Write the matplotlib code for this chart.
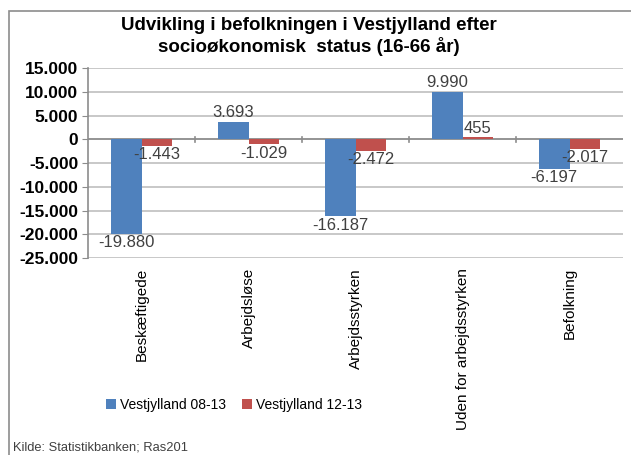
import matplotlib.pyplot as plt
import numpy as np
from matplotlib.patches import Rectangle

plt.rcParams['font.family'] = ['Liberation Sans', 'DejaVu Sans']

# data
categories = ['Beskæftigede', 'Arbejdsløse', 'Arbejdsstyrken',
              'Uden for arbejdsstyrken', 'Befolkning']
vest_08_13 = [-19880, 3693, -16187, 9990, -6197]
vest_12_13 = [-1443, -1029, -2472, 455, -2017]
series_names = ['Vestjylland 08-13', 'Vestjylland 12-13']
yticks = [15000, 10000, 5000, 0, -5000, -10000, -15000, -20000, -25000]

blue = '#4f81bd'
red = '#c0504d'
grey = '#8c8c8c'


def fmt(v):
    return f'{v:,}'.replace(',', '.')


fig = plt.figure(figsize=(6.31, 4.55), dpi=100)

# ramme om diagrammet
fig.patches.append(Rectangle((9 / 631, -0.1), 1.2, 1 - 11 / 455 + 0.1,
                             transform=fig.transFigure, fill=False,
                             edgecolor=grey, linewidth=1.2))

ax = fig.add_axes([88 / 631, 1 - 258 / 455, (623 - 88) / 631, (258 - 68) / 455])

x = np.arange(len(categories))
w = 0.285
b1 = ax.bar(x - w / 2, vest_08_13, w, color=blue, label=series_names[0], zorder=3)
b2 = ax.bar(x + w / 2, vest_12_13, w, color=red, label=series_names[1], zorder=3)

# dataetiketter
for bars, vals in [(b1, vest_08_13), (b2, vest_12_13)]:
    for bar, v in zip(bars, vals):
        cx = bar.get_x() + bar.get_width() / 2
        off = 1 if v >= 0 else -1
        ax.annotate(fmt(v), (cx, v), xytext=(0, off), textcoords='offset points',
                    ha='center', va='bottom' if v >= 0 else 'top',
                    fontsize=12, color='#404040')

ax.set_xlim(-0.5, len(categories) - 0.5)
ax.set_ylim(-25000, 15000)
ax.set_yticks(yticks)
ax.set_yticklabels([fmt(t) for t in yticks], fontweight='bold', fontsize=12.5)
ax.tick_params(axis='y', length=4, color=grey, pad=3)
ax.yaxis.grid(True, color='#bfbfbf', linewidth=1.2, zorder=0)
ax.set_axisbelow(True)

for s in ['top', 'right', 'bottom']:
    ax.spines[s].set_visible(False)
ax.spines['left'].set_color(grey)
ax.spines['left'].set_linewidth(1.2)

# nul-linje med kategori-streger
ax.axhline(0, color=grey, linewidth=1.2, zorder=2)
for b in np.arange(0.5, len(categories) - 0.5, 1.0):
    ax.plot([b, b], [-500, 500], color=grey, linewidth=1.2, zorder=2)

ax.set_xticks([])
for i, c in enumerate(categories):
    xf = fig.transFigure.inverted().transform(ax.transData.transform((i, 0)))[0]
    fig.text(xf, 1 - 268 / 455, c, rotation=90, ha='center', va='top',
             fontsize=11, color='black')

fig.text(0.49, 1 - 17 / 455,
         'Udvikling i befolkningen i Vestjylland efter\nsocioøkonomisk  status (16-66 år)',
         ha='center', va='top', fontsize=13.5, fontweight='bold', linespacing=1.2)

fig.legend(handles=[b1, b2], loc='center', bbox_to_anchor=(234 / 631, 1 - 405 / 455),
           ncol=2, frameon=False, fontsize=10, handlelength=0.7, handleheight=0.7,
           handletextpad=0.3, columnspacing=1.2)

fig.text(13 / 631, 1 - 447 / 455, 'Kilde: Statistikbanken; Ras201', ha='left', va='center',
         fontsize=9.3, color='#404040')

fig.savefig('out.png', dpi=100)
